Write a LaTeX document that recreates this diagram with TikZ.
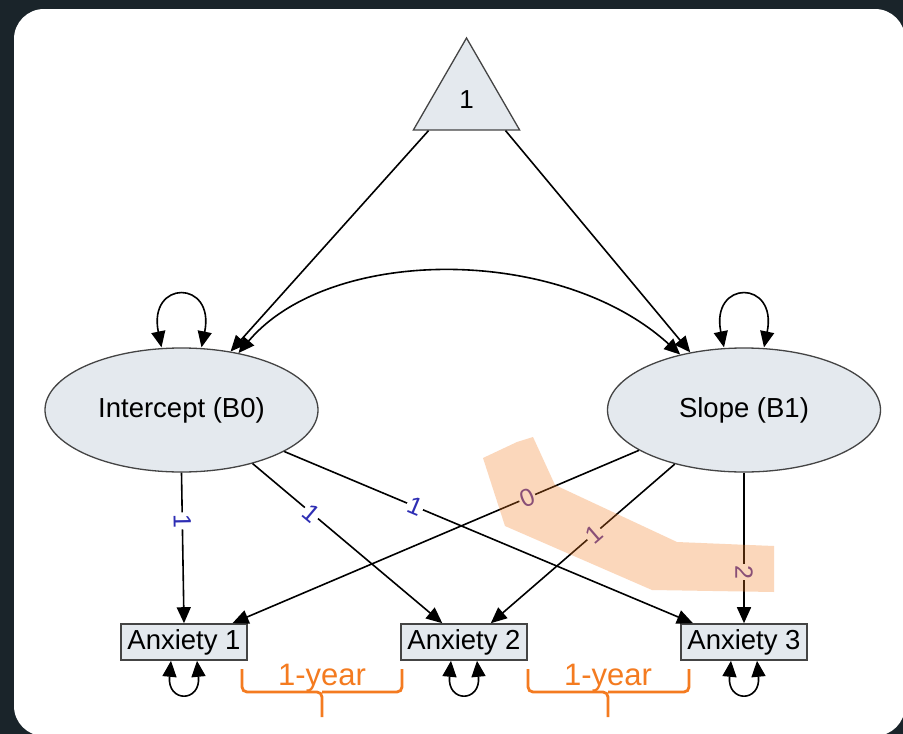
\documentclass[tikz,border=0pt]{standalone}
\usepackage{fontspec}
\setmainfont{Liberation Sans}
\usepackage{xcolor}
\usepackage{tikz}
\usetikzlibrary{positioning, arrows.meta, shapes.geometric, calc}

\definecolor{nodegray}{HTML}{E4E9EE}
\definecolor{edgegray}{HTML}{444444}
\definecolor{bgdark}{HTML}{1A242A}
\definecolor{yrorange}{HTML}{F47B20}
\definecolor{icpblue}{HTML}{2E2EB4}
\definecolor{slppurple}{HTML}{5B3C9C}

\begin{document}
\begin{tikzpicture}[
    x=1pt, y=-1pt,
    latent/.style={ellipse, draw=edgegray, fill=nodegray, line width=1.3pt, minimum width=273pt, minimum height=124pt, font=\fontsize{27.5}{32}\selectfont},
    observed/.style={rectangle, draw=edgegray, fill=nodegray, line width=1.6pt, minimum width=126pt, minimum height=36pt, inner sep=0pt, font=\fontsize{27.5}{32}\selectfont},
    constnode/.style={regular polygon, regular polygon sides=3, draw=edgegray, fill=nodegray, line width=1.3pt, minimum size=122.6pt, inner sep=0pt, font=\fontsize{26}{30}\selectfont},
    arr/.style={-{Triangle[length=16pt, width=14pt]}, line width=1.6pt},
    biarr/.style={{Triangle[length=16pt, width=14pt]}-{Triangle[length=16pt, width=14pt]}, line width=1.6pt},
    load/.style={pos=#1, sloped, fill=white, inner sep=1.5pt, font=\fontsize{25}{27}\selectfont},
    icpload/.style={load=#1, text=icpblue},
    slpload/.style={load=#1, text=slppurple},
    yrbrace/.style={draw=yrorange, line width=2.8pt, rounded corners=5pt},
    yrlabel/.style={text=yrorange, inner sep=0pt, font=\fontsize{31}{34}\selectfont},
]

% background card
\useasboundingbox (0,0) rectangle (903,734);
\fill[bgdark] (0,0) rectangle (903,734);
\fill[white, rounded corners=30pt] (14,9) rectangle (905,736);

% nodes
\node[constnode] (tri) at (466.5,99.3) {1};
\node[latent] (int) at (181.5,410) {Intercept (B0)};
\node[latent] (slope) at (744,410) {Slope (B1)};
\node[observed] (a1) at (184,642) {Anxiety 1};
\node[observed] (a2) at (464,642) {Anxiety 2};
\node[observed] (a3) at (744,642) {Anxiety 3};

% means
\draw[arr] ($(tri.corner 2)!0.15!(tri.corner 3)$) -- (int.50);
\draw[arr] ($(tri.corner 3)!0.14!(tri.corner 2)$) -- (slope.133);

% variances and covariance
\draw[biarr] (int.45) .. controls (330,245) and (560,245) .. (slope.139);
\draw[biarr] ([xshift=-20pt]int.north) .. controls +(-14,-68) and +(14,-68) .. ([xshift=20pt]int.north);
\draw[biarr] ([xshift=-20pt]slope.north) .. controls +(-14,-68) and +(14,-68) .. ([xshift=20pt]slope.north);
\foreach \a in {a1,a2,a3} {
    \draw[biarr] ([xshift=-13pt]\a.south) .. controls +(-4,42) and +(4,42) .. ([xshift=13pt]\a.south);
}

% loadings
\draw[arr] (int.south) -- node[icpload=0.32] {1} (a1.north);
\draw[arr] (int.-37) -- node[icpload=0.31] {1} ($(a2.north west)!0.33!(a2.north east)$);
\draw[arr] (int.-22) -- node[icpload=0.32] {1} ($(a3.north west)!0.1!(a3.north east)$);
\draw[arr] (slope.201) -- node[slpload=0.275] {0} ($(a1.north west)!0.88!(a1.north east)$);
\draw[arr] (slope.218) -- node[slpload=0.44] {1} ($(a2.north west)!0.71!(a2.north east)$);
\draw[arr] (slope.south) -- node[slpload=0.66] {2} (a3.north);

% highlight band
\fill[yrorange, opacity=0.3] (483,458) -- (517,442) -- (533,437) -- (555,485) -- (677,542) -- (774,546) -- (774,592) -- (652,590) -- (505,526) -- cycle;

% time spacing
\node[yrlabel] (yr1) at (322,678) {1-year};
\node[yrlabel] (yr2) at (608,678) {1-year};
\draw[yrbrace] (242,669) |- (322,692) -- (322,717) (322,692) -| (402,669);
\draw[yrbrace] (528,669) |- (608,692) -- (608,717) (608,692) -| (689,669);

\end{tikzpicture}
\end{document}
